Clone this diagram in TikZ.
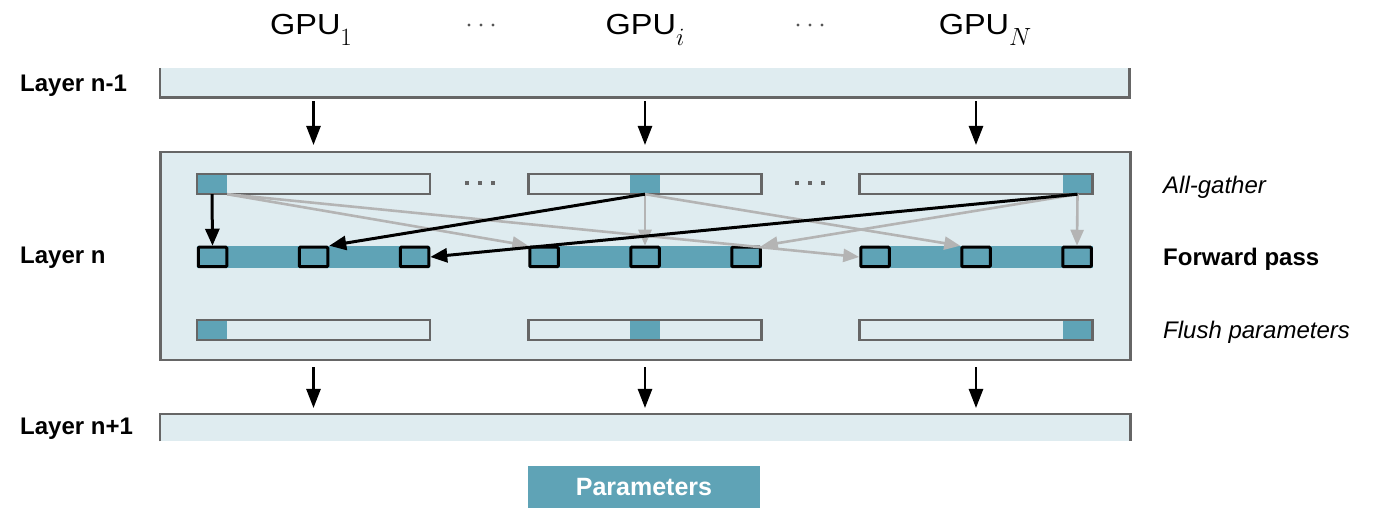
\documentclass[tikz,border=0pt]{standalone}
\usepackage[no-math]{fontspec}
\setmainfont{Liberation Sans}
\newfontfamily\gpufont[FakeStretch=1.12]{Liberation Sans}
\usetikzlibrary{arrows.meta,calc}
\definecolor{tealc}{HTML}{5FA3B6}
\definecolor{lightbg}{HTML}{DFECF0}
\definecolor{edgec}{HTML}{666666}
\definecolor{garrow}{HTML}{B4B4B4}
\definecolor{dotc}{HTML}{555555}
\begin{document}
\begin{tikzpicture}[x=1pt,y=-1pt,
  lab/.style={font=\fontsize{24}{24}\selectfont\bfseries, anchor=west, inner sep=0},
  rlab/.style={font=\fontsize{24}{24}\selectfont\itshape, anchor=west, inner sep=0},
  gpulab/.style={font=\fontsize{29}{29}\selectfont\gpufont, anchor=base, inner sep=0},
  edgeline/.style={draw=edgec, line width=2.5pt},
  layerfill/.style={fill=lightbg, inner sep=0, anchor=north west},
  barfill/.style={fill=lightbg, inner sep=0, minimum width=233, minimum height=20},
  chunk/.style={fill=tealc, inner sep=0, minimum width=30, minimum height=20},
  fwbar/.style={fill=tealc, inner sep=0, minimum width=233, minimum height=22},
  sqbox/.style={fill=tealc, draw=black, line width=3pt, rounded corners=1pt, inner sep=0, minimum width=28.5, minimum height=19.5},
  varrow/.style={draw=black, line width=2.5pt, -{Triangle[length=19pt,width=14pt]}},
  barrow/.style={draw=black, line width=3pt, -{Triangle[length=17pt,width=14pt]}},
  garr/.style={draw=garrow, line width=2.6pt, -{Triangle[length=16pt,width=13pt]}},
]
\useasboundingbox (0,0) rectangle (1374,526);

% GPU labels
\node[gpulab] (g1) at (311,35) {GPU\raisebox{-11pt}{\fontsize{29}{29}\selectfont$1$}};
\node[gpulab] (gi) at (645,35) {GPU\raisebox{-11pt}{\fontsize{29}{29}\selectfont$i$}};
\node[gpulab] (gN) at (985,35) {GPU\raisebox{-11pt}{\fontsize{29}{29}\selectfont$N$}};
\foreach \x in {469,481,493}{ \fill[dotc] (\x,25) circle (1.6); }
\foreach \x in {798,810,822}{ \fill[dotc] (\x,25) circle (1.6); }

% Layer n-1
\node[layerfill, minimum width=969, minimum height=29] (ln1) at (160,68) {};
\draw[edgeline] (ln1.north west) -- (ln1.south west) -- (ln1.south east) -- (ln1.north east);
\node[lab] (lab1) at (20,86) {Layer n-1};

% Layer n box
\node[fill=lightbg, draw=edgec, line width=2.5pt, inner sep=0, minimum width=970, minimum height=208, anchor=north west] (box) at (159,151) {};
\node[lab] (lab2) at (20,258) {Layer n};

% Layer n+1
\node[layerfill, minimum width=970, minimum height=27] (ln2) at (160,414) {};
\draw[edgeline] (ln2.south west) -- (ln2.north west) -- (ln2.north east) -- (ln2.south east);
\node[lab] (lab3) at (20,429) {Layer n+1};

% bars
\foreach \k/\cx/\off in {1/313.5/-101.5, 2/645/0, 3/976/101.5}{
  % all-gather
  \node[barfill] (ag\k) at (\cx,184) {};
  \node[chunk] (ch\k) at ({\cx+\off},184) {};
  \draw[edgeline] (ag\k.north west) rectangle (ag\k.south east);
  % forward
  \node[fwbar] (fw\k) at (\cx,257) {};
  \node[sqbox] (sq\k1) at ({\cx-101},257) {};
  \node[sqbox] (sq\k2) at (\cx,257) {};
  \node[sqbox] (sq\k3) at ({\cx+101},257) {};
  % flush
  \node[barfill] (fl\k) at (\cx,330) {};
  \node[chunk] (fc\k) at ({\cx+\off},330) {};
  \draw[edgeline] (fl\k.north west) rectangle (fl\k.south east);
  % layer arrows
  \draw[varrow] ($(ag\k |- ln1.south)+(0,4)$) -- ($(ag\k |- box.north)+(0,-6)$);
  \draw[varrow] ($(ag\k |- box.south)+(0,6)$) -- ($(ag\k |- ln2.north)+(0,-6)$);
}

% all-gather dots
\foreach \x in {467,480,493}{ \fill[edgec] (\x-2,181) rectangle (\x+2,185); }
\foreach \x in {797,810,823}{ \fill[edgec] (\x-2,181) rectangle (\x+2,185); }

% gray all-gather arrows
\draw[garr] (ch1.south east) -- (sq21.north west);
\draw[garr] (ch1.south east) -- (sq31.west);
\draw[garr] (ch2.south) -- (sq22.north);
\draw[garr] (ch2.south) -- (sq32.north west);
\draw[garr] (ch3.south) -- (sq23.north east);
\draw[garr] (ch3.south) -- (sq33.north);
% black arrows
\draw[barrow] (ch1.south) -- (sq11.north);
\draw[barrow] (ch2.south) -- (sq12.north east);
\draw[barrow] (ch3.south) -- (sq13.east);

% right labels
\node[rlab] (r1) at (1163,187) {All-gather};
\node[lab] (r2) at (1163,259) {Forward pass};
\node[rlab] (r3) at (1163,332) {Flush parameters};

% legend
\node[fill=tealc, inner sep=0, minimum width=232, minimum height=42, text=white, font=\fontsize{25}{25}\selectfont\bfseries] (par) at (644,487) {Parameters};
\end{tikzpicture}
\end{document}
